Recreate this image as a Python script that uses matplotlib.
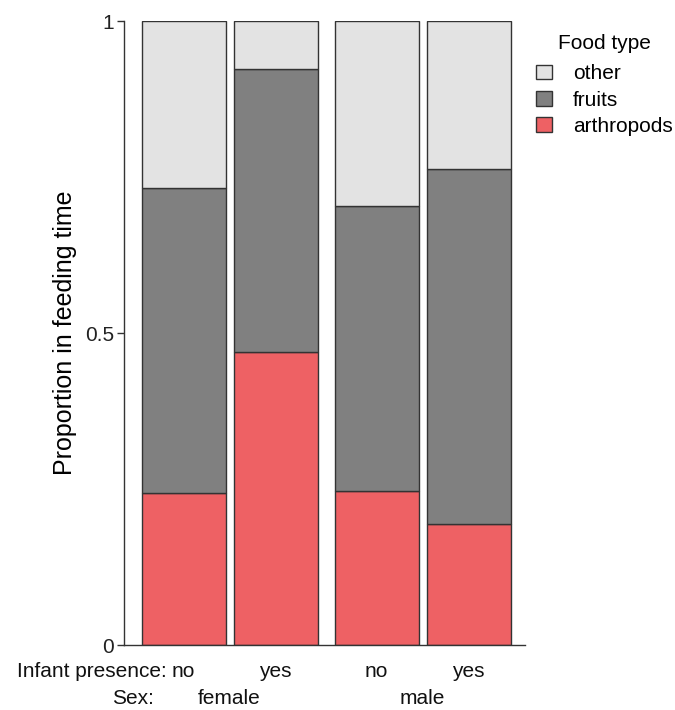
#Stacked proportion of feeding time by food type, sex and infant presence
import matplotlib.pyplot as plt
import numpy as np

plt.rcParams['font.family'] = ['Liberation Sans', 'DejaVu Sans']

#Data
sex = ['female', 'female', 'male', 'male']
infant = ['no', 'yes', 'no', 'yes']
arthropods = [0.244, 0.470, 0.247, 0.194]
fruits = [0.488, 0.453, 0.457, 0.569]
other = [0.268, 0.077, 0.296, 0.237]

foodTypes = ['arthropods', 'fruits', 'other']
foodColours = {'arthropods': '#ee6164', 'fruits': '#808080', 'other': '#e3e3e3'}
values = {'arthropods': arthropods, 'fruits': fruits, 'other': other}

#x positions: small extra gap between the two sexes
groupGap = 0.1
xpos = []
for i in range(len(sex)):
    g = 0 if sex[i] == sex[0] else 1
    xpos.append(i + g * groupGap)
xpos = np.array(xpos)

fig = plt.figure(figsize=(6.75, 7.1), dpi=100)
ax = fig.add_axes([0.1837, 0.0915, 0.5941, 0.8789])

bottom = np.zeros(len(sex))
handles = {}
for food in foodTypes:
    b = ax.bar(xpos, values[food], width=0.913, bottom=bottom,
               color=foodColours[food], edgecolor='#333333', linewidth=1.0)
    handles[food] = b
    bottom = bottom + np.array(values[food])

ax.set_xlim(-0.647, 3.712)
ax.set_ylim(0, 1)
ax.set_yticks([0, 0.5, 1])
ax.set_yticklabels(['0', '0.5', '1'], fontsize=15, color='#222222')
ax.set_xticks([])
ax.tick_params(axis='y', length=5, width=1, color='#333333', pad=2)
ax.spines['top'].set_visible(False)
ax.spines['right'].set_visible(False)
for s in ['left', 'bottom']:
    ax.spines[s].set_color('#333333')
    ax.spines[s].set_linewidth(1)

ax.set_ylabel('Proportion in feeding time', fontsize=18, labelpad=6)

#Two-row x labels
trans = ax.get_xaxis_transform()
row1, row2 = -0.043, -0.086
for i in range(len(infant)):
    ax.text(xpos[i], row1, infant[i], transform=trans, ha='center', va='center',
            fontsize=15, color='#111111')
ax.text(-0.18, row1, 'Infant presence:', transform=trans, ha='right', va='center',
        fontsize=15, color='#111111')
ax.text(-0.777, row2, 'Sex:', transform=trans, ha='left', va='center',
        fontsize=15, color='#111111')
for sx in ['female', 'male']:
    idx = [i for i in range(len(sex)) if sex[i] == sx]
    ax.text(xpos[idx].mean(), row2, sx, transform=trans, ha='center', va='center',
            fontsize=15, color='#111111')

#Legend, top-down order other/fruits/arthropods
leg = ax.legend([handles[f] for f in foodTypes[::-1]], foodTypes[::-1],
                title='Food type', loc='upper left', bbox_to_anchor=(0.99, 1.002),
                frameon=False, fontsize=15, title_fontsize=15,
                handlelength=0.8, handleheight=0.7, handletextpad=1.0,
                labelspacing=0.35, borderaxespad=0.3)
leg._legend_box.sep = 8

fig.savefig('out.png', dpi=100)
